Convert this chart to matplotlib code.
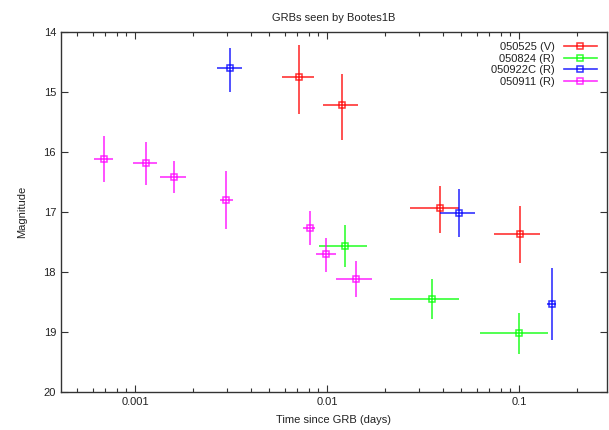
import numpy as np
import matplotlib
matplotlib.use("Agg")
import matplotlib.pyplot as plt
from matplotlib.lines import Line2D
from matplotlib.ticker import LogLocator, FixedLocator, NullFormatter

plt.rcParams['font.family'] = ['Liberation Sans', 'DejaVu Sans']

# --- data (time in days, magnitude) ---
# each row: t, t_lo, t_hi, mag, mag_lo, mag_hi
grb_050525 = [
    (0.00717, 0.00585, 0.00857, 14.75, 14.21, 15.36),
    (0.0119, 0.0095, 0.0145, 15.22, 14.70, 15.80),
    (0.0385, 0.0269, 0.0489, 16.94, 16.56, 17.35),
    (0.101, 0.0744, 0.128, 17.37, 16.90, 17.85),
]
grb_050824 = [
    (0.01245, 0.00912, 0.0161, 17.56, 17.22, 17.92),
    (0.0352, 0.0212, 0.0489, 18.45, 18.12, 18.78),
    (0.100, 0.0624, 0.141, 19.02, 18.68, 19.36),
]
grb_050922c = [
    (0.00313, 0.00267, 0.0036, 14.60, 14.26, 15.00),
    (0.0487, 0.0389, 0.0592, 17.02, 16.62, 17.41),
    (0.148, 0.140, 0.156, 18.53, 17.94, 19.13),
]
grb_050911 = [
    (0.00069, 0.000608, 0.000764, 16.12, 15.73, 16.50),
    (0.001135, 0.000976, 0.0013, 16.18, 15.83, 16.55),
    (0.0016, 0.00134, 0.00183, 16.41, 16.15, 16.69),
    (0.00298, 0.00278, 0.00324, 16.80, 16.31, 17.28),
    (0.00811, 0.0075, 0.00866, 17.26, 16.98, 17.55),
    (0.0099, 0.0087, 0.0111, 17.70, 17.43, 18.00),
    (0.01416, 0.01114, 0.01707, 18.12, 17.82, 18.42),
]

series = [
    ("050525 (V)", grb_050525, "#ff0000"),
    ("050824 (R)", grb_050824, "#00ff00"),
    ("050922C (R)", grb_050922c, "#0000ff"),
    ("050911 (R)", grb_050911, "#ff00ff"),
]

fig = plt.figure(figsize=(6.09, 4.30), dpi=100)
ax = fig.add_axes([0.1, 0.0884, 0.8967, 0.8372])

handles = []
for label, rows, col in series:
    d = np.array(rows)
    t, tlo, thi, m, mlo, mhi = d.T
    ax.errorbar(t, m, xerr=[t - tlo, thi - t], yerr=[m - mlo, mhi - m],
                fmt='s', ms=5, mfc='none', mec=col, mew=1.1,
                ecolor=col, elinewidth=1.2, capsize=0, color=col,
                alpha=0.8)
    # gnuplot style key: line with marker in the middle
    handles.append(Line2D([], [], color=col, lw=1.2, marker='s', ms=5,
                          mfc='none', mec=col, mew=1.1, alpha=0.8, label=label))

ax.set_xscale('log')
ax.set_xlim(0.00041, 0.287)
ax.set_ylim(20, 14)
ax.set_yticks([14, 15, 16, 17, 18, 19, 20])
ax.xaxis.set_major_locator(FixedLocator([0.001, 0.01, 0.1]))
ax.set_xticklabels(['0.001', '0.01', '0.1'])
ax.xaxis.set_minor_locator(LogLocator(base=10, subs=np.arange(2, 10)))
ax.xaxis.set_minor_formatter(NullFormatter())

ax.tick_params(which='both', direction='in', top=True, right=True,
               labelsize=8, color='#333333', labelcolor='#222222')
ax.tick_params(which='major', length=5, width=0.8)
ax.tick_params(which='minor', length=3, width=0.8)
for s in ax.spines.values():
    s.set_color('#333333')
    s.set_linewidth(1.0)

ax.set_xlabel("Time since GRB (days)", fontsize=8, color='#222222', labelpad=6)
ax.set_ylabel("Magnitude", fontsize=8, color='#222222', labelpad=12)
ax.set_title("GRBs seen by Bootes1B", fontsize=8, color='#222222', pad=8)

leg = ax.legend(handles=handles, loc='upper right', frameon=False,
                markerfirst=False, fontsize=8, handlelength=3.0,
                handletextpad=0.8, labelspacing=0.15, borderaxespad=0.5)
for txt in leg.get_texts():
    txt.set_color('#222222')

fig.savefig("out.png", dpi=100)
